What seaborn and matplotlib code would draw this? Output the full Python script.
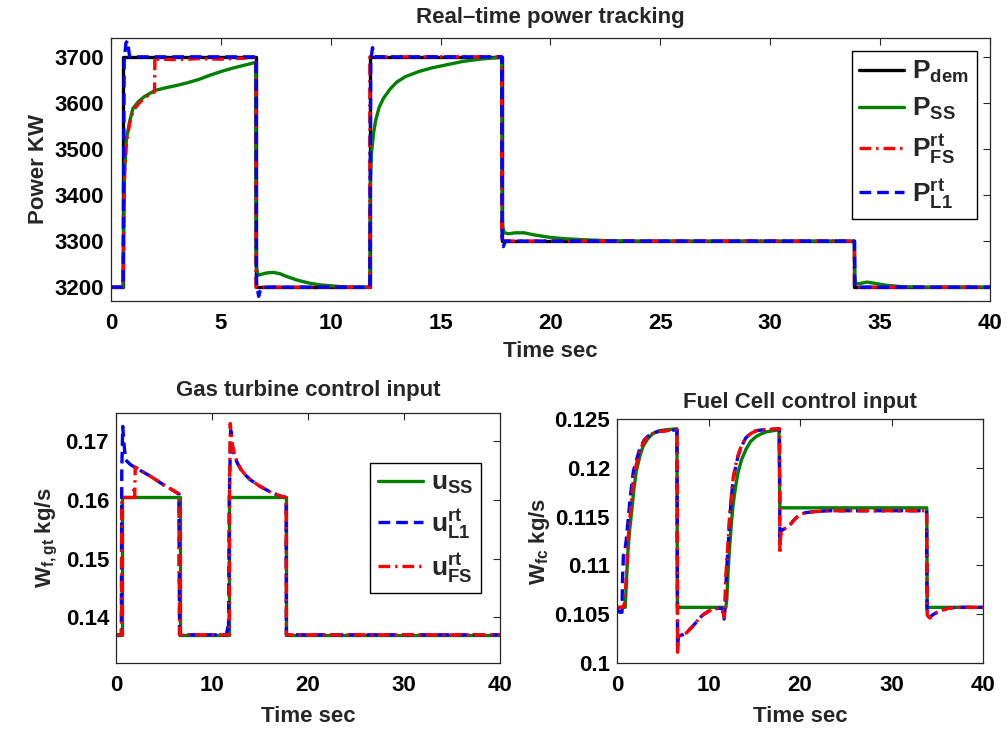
import numpy as np
import pandas as pd
import seaborn as sns
import matplotlib.pyplot as plt
from matplotlib.ticker import FuncFormatter

# ---- top: power tracking (time sec, power KW) ----
t_dem = [0, 0.55, 0.55, 6.6, 6.6, 11.78, 11.78, 17.78, 17.78, 33.83, 33.83, 40]
p_dem = [3200, 3200, 3700, 3700, 3200, 3200, 3700, 3700, 3300, 3300, 3200, 3200]

t_ss = [0, 0.55, 0.58, 0.62, 0.7, 0.85, 1.0, 1.25, 1.5, 1.75, 2.0, 2.5, 3.0, 3.5, 4.0, 4.5, 5.0, 5.5, 6.0, 6.58,
        6.6, 6.63, 6.7, 6.85, 7.1, 7.4, 7.7, 8.0, 8.5, 9.0, 9.5, 10.0, 10.5, 11.0, 11.78,
        11.8, 11.85, 11.95, 12.05, 12.2, 12.4, 12.7, 13.0, 13.4, 14.0, 14.6, 15.2, 16.0, 16.8, 17.78,
        17.8, 17.83, 17.9, 18.1, 18.4, 18.8, 19.3, 20.0, 20.7, 21.5, 22.5, 24.0, 33.83,
        33.85, 33.9, 34.1, 34.4, 34.8, 35.3, 36.0, 37.0, 40]
p_ss = [3200, 3200, 3330, 3450, 3520, 3560, 3588, 3603, 3613, 3620, 3627, 3633, 3638, 3644, 3651, 3660, 3668, 3675, 3681, 3688,
        3250, 3240, 3226, 3228, 3231, 3232, 3229, 3223, 3215, 3209, 3205, 3203, 3201, 3200, 3200,
        3420, 3490, 3535, 3563, 3590, 3610, 3630, 3645, 3657, 3668, 3676, 3682, 3690, 3695, 3699,
        3355, 3330, 3318, 3316, 3318, 3318, 3313, 3308, 3305, 3303, 3301, 3300, 3300,
        3220, 3207, 3208, 3211, 3208, 3204, 3201, 3200, 3200]

t_fs = [0, 0.55, 0.58, 0.62, 0.7, 0.85, 1.0, 1.25, 1.5, 1.75, 1.98, 2.0, 2.05, 3.0, 4.0, 5.0, 6.0, 6.6,
        6.6, 11.78, 11.78, 17.78, 17.78, 33.83, 33.83, 40]
p_fs = [3200, 3200, 3330, 3450, 3515, 3555, 3583, 3598, 3610, 3618, 3624, 3700, 3695, 3694, 3696, 3695, 3697, 3700,
        3200, 3200, 3700, 3700, 3300, 3300, 3200, 3200]

t_l1 = [0, 0.55, 0.6, 0.68, 0.75, 0.85, 1.0, 6.6, 6.62, 6.72, 6.8, 6.9, 11.78, 11.82, 11.9, 11.98, 12.1,
        17.78, 17.8, 17.85, 17.95, 33.83, 33.85, 40]
p_l1 = [3200, 3200, 3690, 3730, 3735, 3700, 3700, 3700, 3210, 3180, 3195, 3200, 3200, 3690, 3720, 3700, 3700,
        3700, 3295, 3288, 3300, 3300, 3200, 3200]

# ---- bottom left: gas turbine control input ----
t_gss = [0, 0.58, 0.58, 6.62, 6.62, 11.78, 11.78, 17.72, 17.72, 40]
u_gss = [0.137, 0.137, 0.1604, 0.1604, 0.137, 0.137, 0.1604, 0.1604, 0.137, 0.137]

t_gl1 = [0, 0.55, 0.6, 0.7, 0.8, 1.0, 1.5, 2.0, 2.75, 3.5, 4.25, 5.0, 5.75, 6.55, 6.62,
         11.5, 11.65, 11.72, 11.8, 11.95, 12.1, 12.3, 12.6, 13.0, 13.5, 14.0, 15.0, 16.0, 17.0, 17.72, 17.75, 40]
u_gl1 = [0.137, 0.137, 0.165, 0.1725, 0.170, 0.1668, 0.166, 0.1655, 0.1648, 0.1641, 0.1633, 0.1625, 0.1618, 0.161, 0.137,
         0.137, 0.1383, 0.1375, 0.160, 0.1718, 0.1695, 0.1678, 0.1664, 0.1652, 0.1642, 0.1634, 0.1623, 0.1614, 0.1607, 0.1604, 0.137, 0.137]

t_gfs = [0, 0.58, 0.6, 1.0, 1.8, 1.85, 1.95, 2.0, 2.75, 3.5, 4.25, 5.0, 5.75, 6.55, 6.62,
         11.78, 11.82, 11.9, 12.0, 12.1, 12.3, 12.6, 13.0, 13.5, 14.0, 15.0, 16.0, 17.0, 17.72, 17.75, 40]
u_gfs = [0.137, 0.137, 0.1604, 0.1604, 0.1604, 0.1617, 0.1604, 0.1656, 0.1648, 0.1641, 0.1633, 0.1625, 0.1618, 0.161, 0.137,
         0.137, 0.1605, 0.173, 0.171, 0.1695, 0.168, 0.1665, 0.1652, 0.1642, 0.1634, 0.1623, 0.1614, 0.1607, 0.1604, 0.137, 0.137]

# ---- bottom right: fuel cell control input ----
t_fss = [0, 0.9, 1.0, 1.2, 1.4, 1.6, 1.85, 2.1, 2.5, 2.85, 3.3, 3.9, 4.6, 5.4, 6.55, 6.6,
         11.9, 12.0, 12.15, 12.3, 12.5, 12.7, 12.95, 13.2, 13.6, 14.1, 14.6, 15.2, 15.8, 16.4, 17.7, 17.8,
         33.85, 33.9, 40]
u_fss = [0.1057, 0.1057, 0.1078, 0.1115, 0.1138, 0.1155, 0.1178, 0.1196, 0.1212, 0.1222, 0.1229, 0.1235, 0.1238, 0.1239, 0.124, 0.1057,
         0.1057, 0.1065, 0.1095, 0.1118, 0.1143, 0.1163, 0.118, 0.1194, 0.1208, 0.1219, 0.1227, 0.1232, 0.1235, 0.1237, 0.1239, 0.1159,
         0.1159, 0.1057, 0.1057]

t_fl1 = [0, 0.3, 0.55, 0.6, 0.7, 0.85, 1.0, 1.2, 1.4, 1.6, 1.8, 2.1, 2.5, 3.0, 3.6, 4.4, 5.4, 6.55,
         6.62, 6.68, 6.8, 7.2, 7.6, 8.0, 8.5, 9.0, 9.5, 10.0, 10.5, 11.0, 11.5, 11.7,
         11.8, 11.9, 12.0, 12.15, 12.3, 12.5, 12.7, 12.95, 13.2, 13.6, 14.1, 14.6, 15.2, 16.0, 17.75,
         17.8, 17.85, 18.0, 18.4, 18.8, 19.2, 19.6, 20.0, 20.6, 21.5, 23.0, 33.83,
         33.88, 34.2, 34.6, 35.0, 35.5, 36.2, 37.0, 40]
u_fl1 = [0.1055, 0.1052, 0.1052, 0.1085, 0.111, 0.1114, 0.1125, 0.1145, 0.1165, 0.1182, 0.1197, 0.1207, 0.122, 0.1229, 0.1234, 0.1237, 0.1238, 0.1239,
         0.1015, 0.1027, 0.1028, 0.1029, 0.1031, 0.1035, 0.104, 0.1046, 0.105, 0.1053, 0.1055, 0.1056, 0.1056, 0.1045,
         0.1055, 0.108, 0.1098, 0.112, 0.1145, 0.117, 0.1188, 0.12, 0.1211, 0.1222, 0.1231, 0.1235, 0.1238, 0.1239, 0.124,
         0.1125, 0.1133, 0.1136, 0.1138, 0.114, 0.1145, 0.1149, 0.1152, 0.1154, 0.1155, 0.1156, 0.1156,
         0.1048, 0.1047, 0.105, 0.1052, 0.1054, 0.1056, 0.1057, 0.1057]

t_ffs = [0, 0.55, 0.7, 0.85, 1.0, 1.2, 1.4, 1.6, 1.8, 2.1, 2.5, 3.0, 3.6, 4.4, 5.4, 6.55,
         6.62, 6.7, 6.8, 7.2, 7.6, 8.0, 8.5, 9.0, 9.5, 10.0, 10.5, 11.0, 11.5, 11.72,
         11.8, 11.9, 12.0, 12.15, 12.3, 12.5, 12.7, 12.95, 13.2, 13.6, 14.1, 14.6, 15.2, 16.0, 17.75,
         17.8, 17.85, 18.0, 18.4, 18.8, 19.2, 19.6, 20.0, 20.6, 21.5, 23.0, 33.83,
         33.9, 34.2, 34.6, 35.0, 35.5, 36.2, 37.0, 40]
u_ffs = [0.1057, 0.1057, 0.1058, 0.1062, 0.1085, 0.1125, 0.1148, 0.1168, 0.1188, 0.1203, 0.1218, 0.1228, 0.1234, 0.1237, 0.1238, 0.1239,
         0.1011, 0.1025, 0.1028, 0.1029, 0.1031, 0.1035, 0.104, 0.1046, 0.105, 0.1053, 0.1055, 0.1056, 0.1056, 0.1047,
         0.1062, 0.109, 0.1105, 0.1125, 0.115, 0.1172, 0.119, 0.1202, 0.1212, 0.1223, 0.1231, 0.1235, 0.1238, 0.1239, 0.124,
         0.1112, 0.1128, 0.1135, 0.1138, 0.114, 0.1145, 0.1149, 0.1152, 0.1154, 0.1155, 0.1156, 0.1156,
         0.1049, 0.1046, 0.1049, 0.1052, 0.1054, 0.1056, 0.1057, 0.1057]

sns.set_style("white")
plt.rcParams['font.family'] = ['Liberation Sans', 'DejaVu Sans']
plt.rcParams['font.weight'] = 'bold'
plt.rcParams['axes.titleweight'] = 'bold'
plt.rcParams['axes.labelweight'] = 'bold'
plt.rcParams['mathtext.fontset'] = 'custom'
plt.rcParams['mathtext.rm'] = 'Liberation Sans:bold'
plt.rcParams['mathtext.it'] = 'Liberation Sans:bold'
plt.rcParams['mathtext.bf'] = 'Liberation Sans:bold'
plt.rcParams['mathtext.sf'] = 'Liberation Sans:bold'
plt.rcParams['mathtext.default'] = 'rm'

GREEN, RED, BLUE = '#008000', '#ff0000', '#0000ff'
LW = 2.4
DASH = (3.5, 1.8)
DASHDOT = (3.5, 1.5, 0.7, 1.5)
TXT = 16
TICK = 16
LEG = 19

fig = plt.figure(figsize=(10.07, 7.30), dpi=100)
ax1 = fig.add_axes([0.1102, 0.5877, 0.8729, 0.3603])
ax2 = fig.add_axes([0.1152, 0.0918, 0.3813, 0.3425])
ax3 = fig.add_axes([0.6127, 0.0918, 0.3635, 0.3342])


def line(ax, t, v, color, label=None, dashes=None):
    l = sns.lineplot(x=np.array(t), y=np.array(v), ax=ax, color=color, lw=LW,
                     estimator=None, sort=False, label=label, legend=False)
    if dashes is not None:
        l.lines[-1].set_dashes(dashes)
    return l


def box_legend(ax, **kw):
    ax.legend(handles=ax.lines, labels=[l.get_label() for l in ax.lines],
              fontsize=LEG, handlelength=1.7, handletextpad=0.3, labelspacing=0.4,
              borderpad=0.3, fancybox=False, edgecolor='black', framealpha=1, **kw)


# top
line(ax1, t_dem, p_dem, 'black', r'$P_{dem}$')
line(ax1, t_ss, p_ss, GREEN, r'$P_{SS}$')
line(ax1, t_fs, p_fs, RED, r'$P_{FS}^{rt}$', DASHDOT)
line(ax1, t_l1, p_l1, BLUE, r'$P_{L1}^{rt}$', DASH)
ax1.set_xlim(0, 40)
ax1.set_ylim(3170, 3741)
ax1.set_xticks(np.arange(0, 41, 5))
ax1.set_yticks(np.arange(3200, 3701, 100))
ax1.set_title('Real\u2013time power tracking', fontsize=TXT, pad=11)
ax1.set_xlabel('Time sec', fontsize=TXT, labelpad=5)
ax1.set_ylabel('Power KW', fontsize=TXT)
box_legend(ax1, loc='upper right')

# bottom left
line(ax2, t_gss, u_gss, GREEN, r'$u_{SS}$')
line(ax2, t_gl1, u_gl1, BLUE, r'$u_{L1}^{rt}$', DASH)
line(ax2, t_gfs, u_gfs, RED, r'$u_{FS}^{rt}$', DASHDOT)
ax2.set_xlim(0, 40)
ax2.set_ylim(0.1322, 0.1748)
ax2.set_xticks(np.arange(0, 41, 10))
ax2.set_yticks([0.14, 0.15, 0.16, 0.17])
ax2.set_title('Gas turbine control input', fontsize=TXT, pad=12)
ax2.set_xlabel('Time sec', fontsize=TXT, labelpad=7)
ax2.set_ylabel(r'$W_{f,gt}$ kg/s', fontsize=TXT)
box_legend(ax2, loc='center right', bbox_to_anchor=(0.985, 0.54))

# bottom right
line(ax3, t_fss, u_fss, GREEN)
line(ax3, t_fl1, u_fl1, BLUE, dashes=DASH)
line(ax3, t_ffs, u_ffs, RED, dashes=DASHDOT)
ax3.set_xlim(0, 40)
ax3.set_ylim(0.1, 0.125)
ax3.set_xticks(np.arange(0, 41, 10))
ax3.set_yticks([0.1, 0.105, 0.11, 0.115, 0.12, 0.125])
ax3.set_title('Fuel Cell control input', fontsize=TXT, pad=8)
ax3.set_xlabel('Time sec', fontsize=TXT, labelpad=7)
ax3.set_ylabel(r'$W_{fc}$ kg/s', fontsize=TXT, labelpad=2)

fmt = FuncFormatter(lambda v, p: '%g' % round(v, 4))
for ax in (ax1, ax2, ax3):
    ax.yaxis.set_major_formatter(fmt)
    ax.tick_params(direction='in', top=True, right=True, length=5, width=0.8,
                   labelsize=TICK, colors='#262626', labelcolor='black', pad=5)
    ax.tick_params(axis='x', pad=9)
    for lab in ax.get_xticklabels() + ax.get_yticklabels():
        lab.set_fontweight('bold')
    for s in ax.spines.values():
        s.set_color('#262626')
        s.set_linewidth(0.9)

fig.savefig('out.png', dpi=100)
